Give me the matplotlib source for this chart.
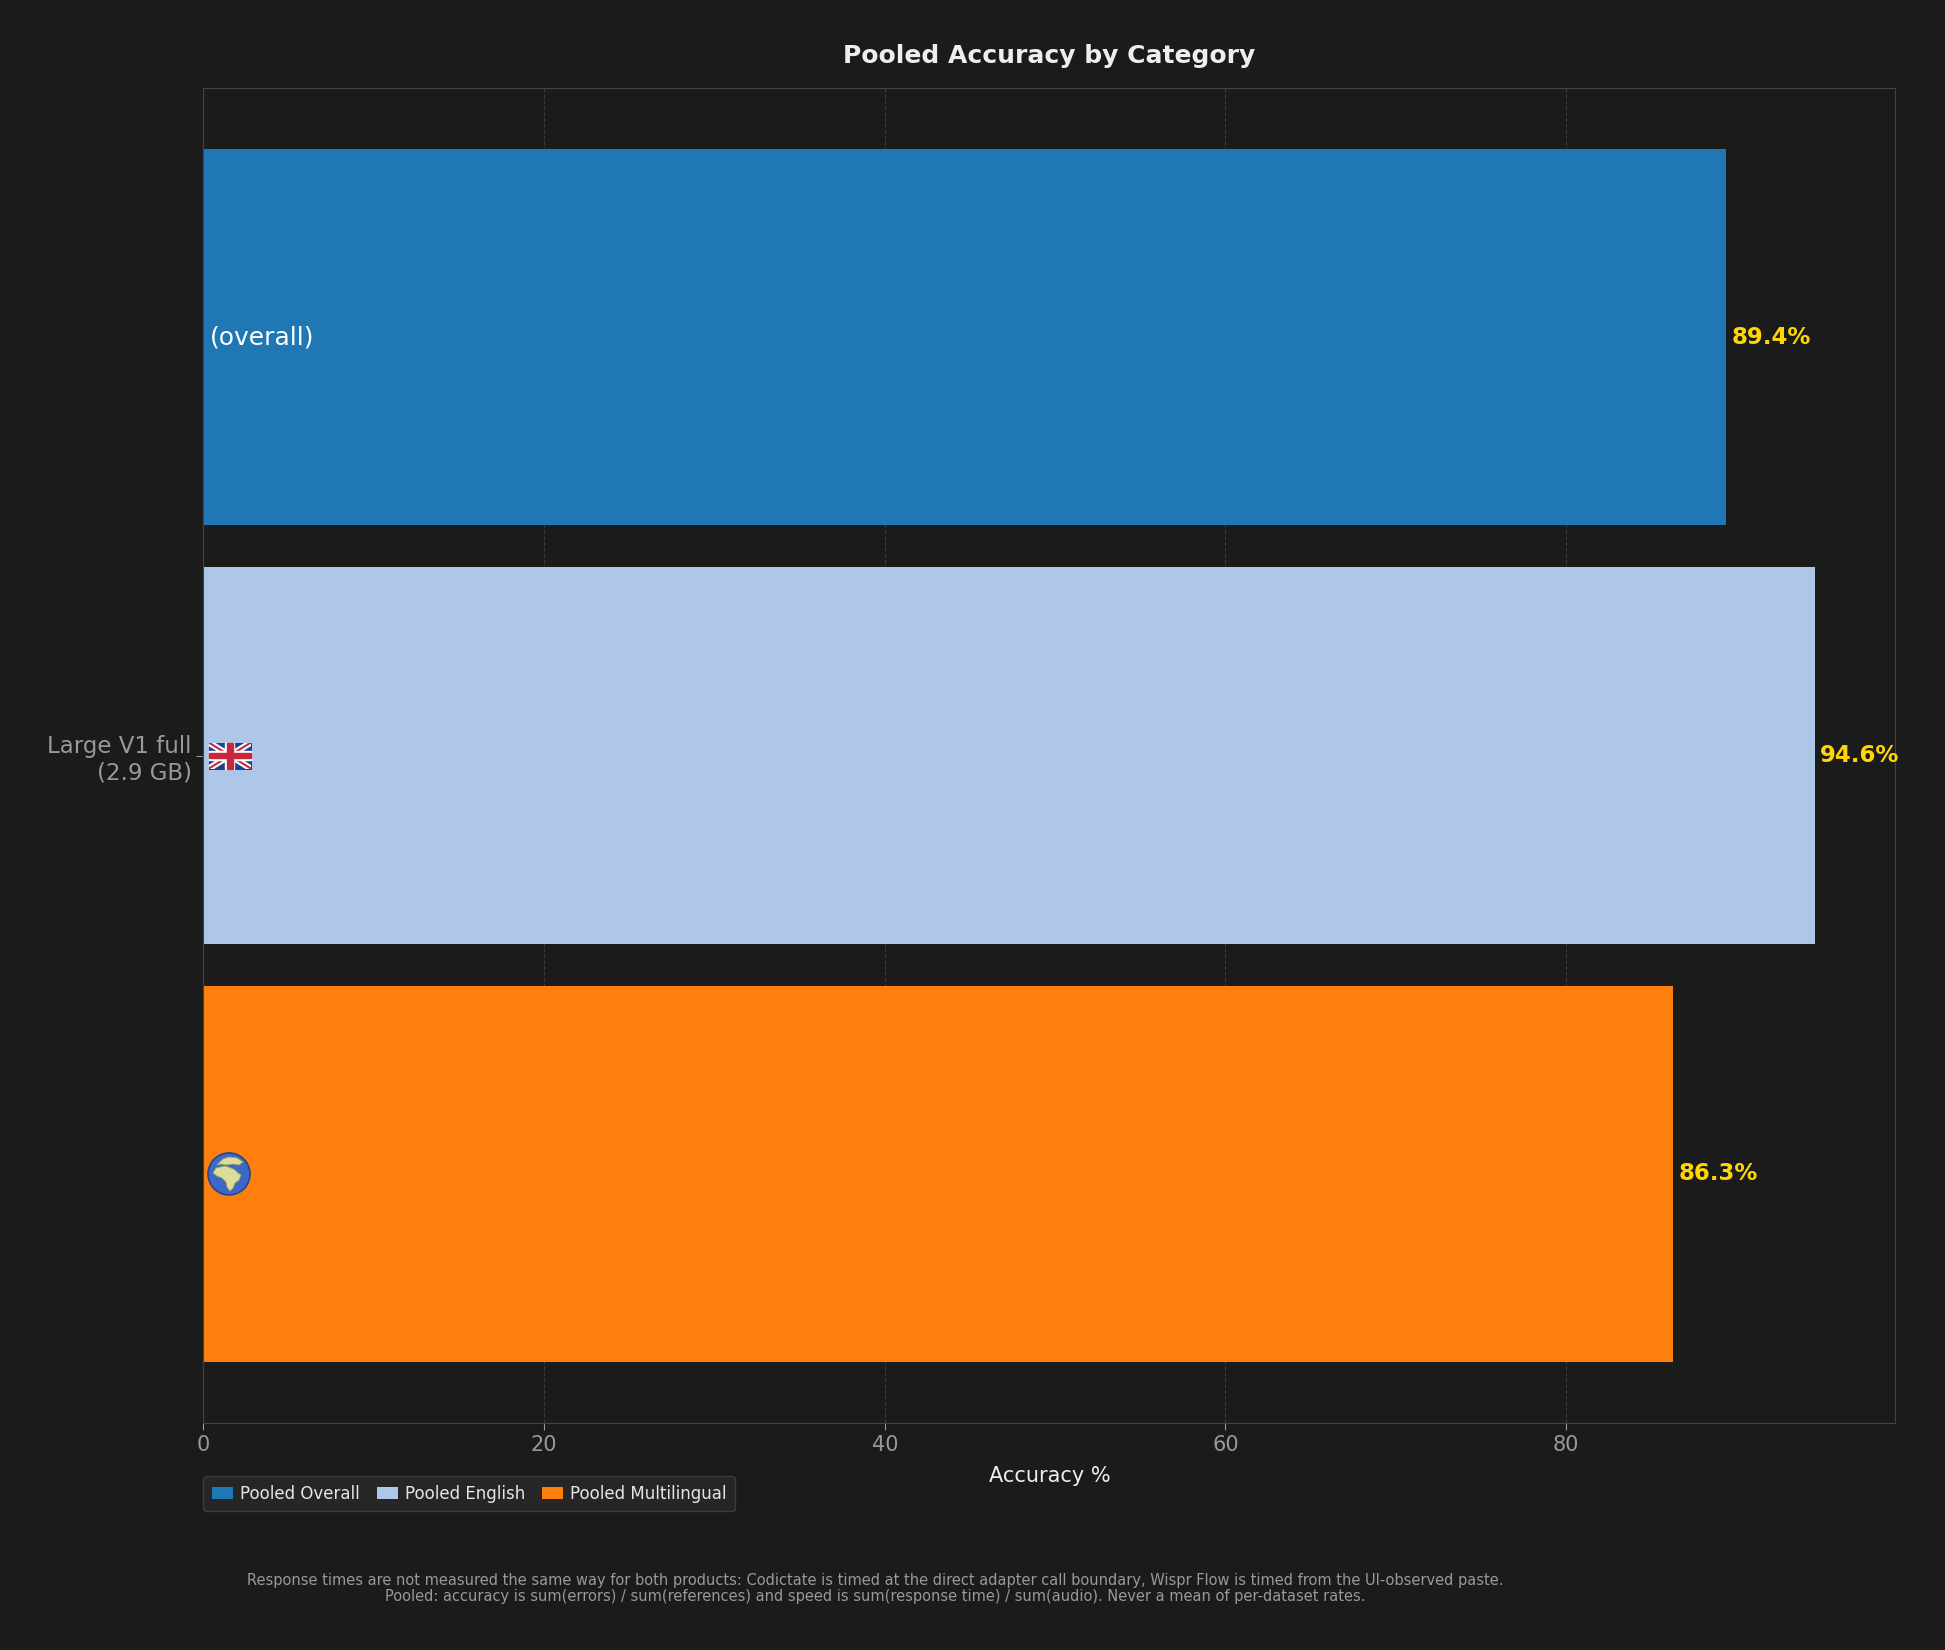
import numpy as np
import matplotlib.pyplot as plt
import matplotlib.transforms as mtransforms
from matplotlib.patches import Rectangle, Circle, Polygon

# data
model_label = "Large V1 full\n(2.9 GB)"
series_names = ["Pooled Overall", "Pooled English", "Pooled Multilingual"]
accuracy = [89.4, 94.6, 86.3]
bar_tags = ["(overall)", "flag", "globe"]
bar_colors = ["#1f77b4", "#aec7e8", "#ff7f0e"]

BG = "#1b1b1b"

fig = plt.figure(figsize=(19.45, 16.5), dpi=100, facecolor=BG)
ax = fig.add_axes([0.1046, 0.1376, 0.8699, 0.809])
ax.set_facecolor(BG)


def pixel_trans(x, y):
    # pixel offsets around a data anchor
    return mtransforms.Affine2D() + mtransforms.ScaledTranslation(x, y, ax.transData)


def draw_flag(x, y):
    # no installed font has the flag emoji, so draw a small union jack
    tr = pixel_trans(x, y)
    w, h = 21, 13
    bg = Rectangle((-w, -h), 2 * w, 2 * h, transform=tr, facecolor="#1f3f8f",
                   edgecolor="#16306e", lw=0.6, zorder=4)
    ax.add_patch(bg)
    for sx in (1, -1):
        ln, = ax.plot([-w, w], [-h * sx, h * sx], color="white", lw=4.5,
                      transform=tr, zorder=5, solid_capstyle="butt")
        ln.set_clip_path(bg)
        ln, = ax.plot([-w, w], [-h * sx, h * sx], color="#c8283c", lw=1.5,
                      transform=tr, zorder=6, solid_capstyle="butt")
        ln.set_clip_path(bg)
    ax.add_patch(Rectangle((-w, -4.5), 2 * w, 9, transform=tr, color="white", zorder=7))
    ax.add_patch(Rectangle((-4.5, -h), 9, 2 * h, transform=tr, color="white", zorder=7))
    ax.add_patch(Rectangle((-w, -2.7), 2 * w, 5.4, transform=tr, color="#c8283c", zorder=8))
    ax.add_patch(Rectangle((-2.7, -h), 5.4, 2 * h, transform=tr, color="#c8283c", zorder=8))


def draw_globe(x, y):
    # no installed font has the globe emoji, so draw a small globe
    tr = pixel_trans(x, y)
    r = 21
    disc = Circle((0, 0), r, transform=tr, facecolor="#3d68c8",
                  edgecolor="#27458f", lw=1.2, zorder=4)
    ax.add_patch(disc)
    africa = [(-13, 6), (-4, 8), (2, 6), (6, 4), (9, 1), (12, -1), (10, -6),
              (6, -9), (4, -14), (1, -17), (-2, -13), (-3, -8), (-7, -4),
              (-12, -2), (-16, 1)]
    europe = [(-12, 9), (-6, 15), (0, 17), (8, 16), (14, 12), (10, 9), (4, 10),
              (-2, 9), (-8, 10)]
    for pts in (africa, europe):
        land = Polygon(pts, closed=True, transform=tr, facecolor="#dedc9a",
                       edgecolor="#9fae5a", lw=0.6, zorder=5)
        land.set_clip_path(disc)
        ax.add_patch(land)


offsets = np.array([-0.3, 0.0, 0.3])
for i, (name, val, col) in enumerate(zip(series_names, accuracy, bar_colors)):
    ax.barh(offsets[i], val, height=0.27, color=col, label=name, zorder=2)
    ax.text(val + 0.3, offsets[i], f"{val:.1f}%", color="#FFD700",
            fontsize=16.5, fontweight="bold", va="center", ha="left", zorder=3)
    if bar_tags[i] == "flag":
        draw_flag(1.55, offsets[i])
    elif bar_tags[i] == "globe":
        draw_globe(1.5, offsets[i])
    else:
        ax.text(0.4, offsets[i], bar_tags[i], color="white", fontsize=18,
                va="center", ha="left", zorder=3)

ax.invert_yaxis()
ax.set_yticks([0.0])
ax.set_yticklabels([model_label], fontsize=16.5, color="#999999")

ax.tick_params(axis="x", colors="#999999", labelsize=15, length=5)
ax.tick_params(axis="y", colors="#999999", length=5)
for sp in ax.spines.values():
    sp.set_color("#444444")

ax.grid(axis="x", color="#3a3a3a", linestyle="--", linewidth=0.8, zorder=0)
ax.set_axisbelow(True)

ax.set_xlabel("Accuracy %", color="#eeeeee", fontsize=15, labelpad=8)
ax.set_title("Pooled Accuracy by Category", color="#eeeeee", fontsize=18,
             fontweight="bold", pad=18)

leg = ax.legend(loc="upper left", bbox_to_anchor=(0, -0.04), ncol=3,
                fontsize=12, facecolor="#2a2a2a", edgecolor="#444444",
                labelcolor="#e6e6e6", handlelength=1.3, handleheight=0.8,
                columnspacing=1.0, handletextpad=0.4, borderpad=0.5,
                borderaxespad=0)

fig.text(0.45, 0.0421,
         "Response times are not measured the same way for both products: Codictate is timed at the "
         "direct adapter call boundary, Wispr Flow is timed from the UI-observed paste.",
         ha="center", va="center", fontsize=10.5, color="#999999")
fig.text(0.45, 0.0323,
         "Pooled: accuracy is sum(errors) / sum(references) and speed is sum(response time) / sum(audio). "
         "Never a mean of per-dataset rates.",
         ha="center", va="center", fontsize=10.5, color="#999999")

fig.savefig("out.png", dpi=100, facecolor=BG)
